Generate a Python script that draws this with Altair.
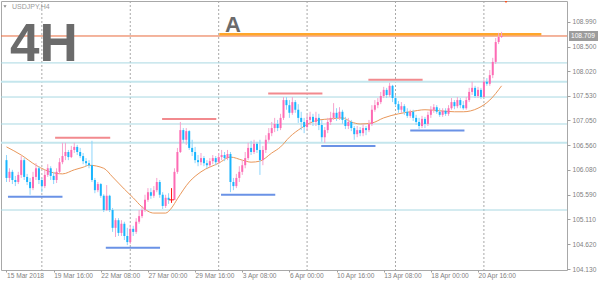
import altair as alt
import pandas as pd

# ---------------- data ----------------
symbol_label = "USDJPY,H4"
timeframe_text = "4H"
marker_text = "A"

first_open = 106.27
close = [
    105.92, 106.04, 105.88, 105.84, 105.98, 106.27, 105.94, 105.84, 105.72, 105.94, 106.11, 105.88,
    105.76, 105.98, 106.11, 105.96, 105.88, 106.04, 106.23, 106.35, 106.43, 106.33, 106.47, 106.53,
    106.43, 106.35, 106.25, 106.21, 106.17, 105.88, 105.68, 105.80, 105.57, 105.29, 105.57, 105.29,
    104.94, 105.09, 104.84, 105.02, 104.78, 104.66, 104.92, 104.86, 105.06, 105.17, 105.29, 105.49,
    105.64, 105.57, 105.68, 105.84, 105.59, 105.37, 105.53, 105.49, 105.49, 106.04, 106.43, 106.86,
    106.67, 106.84, 106.51, 106.43, 106.27, 106.23, 106.31, 106.21, 106.17, 106.25, 106.31, 106.23,
    106.33, 106.37, 106.31, 106.39, 105.84, 105.76, 105.92, 106.04, 106.17, 106.31, 106.51, 106.43,
    106.59, 106.47, 106.27, 106.47, 106.67, 106.80, 106.90, 106.98, 106.90, 107.10, 107.45, 107.35,
    107.20, 107.41, 107.26, 107.10, 107.02, 106.92, 107.06, 107.12, 107.02, 107.10, 106.96, 106.72,
    106.86, 107.02, 107.10, 107.20, 107.10, 107.22, 107.06, 106.94, 107.02, 106.90, 106.78, 106.86,
    106.80, 106.90, 106.86, 106.98, 107.26, 107.35, 107.41, 107.53, 107.65, 107.55, 107.73, 107.49,
    107.37, 107.26, 107.33, 107.22, 107.14, 107.22, 107.10, 107.02, 106.94, 107.08, 106.98, 107.16,
    107.26, 107.31, 107.22, 107.16, 107.24, 107.18, 107.29, 107.41, 107.33, 107.45, 107.35, 107.29,
    107.45, 107.61, 107.69, 107.53, 107.65, 107.51, 107.81, 107.77, 107.94, 108.20, 108.59, 108.69, 108.709,
]
high = [
    106.37, 106.11, 106.08, 105.96, 106.04, 106.35, 106.31, 106.00, 105.92, 106.04, 106.21, 106.15,
    105.92, 106.08, 106.19, 106.15, 106.04, 106.11, 106.31, 106.61, 106.61, 106.47, 106.55, 106.61,
    106.57, 106.51, 106.41, 106.31, 106.27, 106.65, 105.92, 105.84, 105.82, 105.60, 105.78, 105.59,
    105.33, 105.13, 105.13, 105.09, 105.06, 104.94, 105.00, 104.98, 105.13, 105.29, 105.37, 105.59,
    105.72, 105.72, 105.76, 105.92, 105.88, 105.64, 105.59, 105.62, 105.72, 106.11, 106.51, 107.02,
    106.90, 106.90, 106.86, 106.67, 106.53, 106.37, 106.41, 106.35, 106.27, 106.31, 106.37, 106.35,
    106.41, 106.47, 106.43, 106.47, 106.43, 105.92, 106.00, 106.15, 106.27, 106.43, 106.61, 106.65,
    106.67, 106.63, 106.67, 106.55, 106.76, 106.90, 107.02, 107.10, 107.06, 107.18, 107.51, 107.51,
    107.45, 107.51, 107.45, 107.37, 107.22, 107.10, 107.16, 107.22, 107.18, 107.22, 107.18, 107.06,
    106.92, 107.10, 107.22, 107.39, 107.29, 107.31, 107.26, 107.12, 107.10, 107.06, 106.94, 106.94,
    106.92, 106.98, 106.94, 107.06, 107.35, 107.45, 107.49, 107.61, 107.71, 107.69, 107.79, 107.75,
    107.55, 107.43, 107.41, 107.37, 107.29, 107.26, 107.26, 107.16, 107.10, 107.14, 107.12, 107.22,
    107.33, 107.37, 107.35, 107.29, 107.29, 107.29, 107.35, 107.49, 107.45, 107.51, 107.49, 107.43,
    107.51, 107.69, 107.81, 107.73, 107.71, 107.69, 107.86, 107.88, 108.04, 108.28, 108.67, 108.77, 108.79,
]
low = [
    105.84, 105.84, 105.80, 105.76, 105.80, 105.92, 105.88, 105.78, 105.59, 105.68, 105.88, 105.80,
    105.64, 105.72, 105.94, 105.88, 105.80, 105.82, 106.00, 106.19, 106.27, 106.27, 106.31, 106.41,
    106.37, 106.31, 106.19, 106.15, 106.11, 105.84, 105.62, 105.64, 105.53, 105.25, 105.27, 105.25,
    104.86, 104.76, 104.78, 104.78, 104.70, 104.60, 104.62, 104.78, 104.82, 105.02, 105.13, 105.25,
    105.45, 105.51, 105.53, 105.64, 105.53, 105.31, 105.33, 105.41, 105.43, 105.49, 106.00, 106.41,
    106.61, 106.57, 106.47, 106.35, 106.21, 106.15, 106.17, 106.15, 106.11, 106.13, 106.19, 106.17,
    106.19, 106.27, 106.25, 106.27, 105.64, 105.68, 105.72, 105.84, 105.98, 106.11, 106.27, 106.37,
    106.39, 106.41, 105.98, 106.17, 106.41, 106.63, 106.74, 106.82, 106.84, 106.86, 107.06, 107.26,
    107.10, 107.16, 107.20, 107.00, 106.86, 106.80, 106.86, 106.96, 106.94, 106.94, 106.86, 106.63,
    106.61, 106.80, 106.96, 107.06, 107.04, 107.06, 106.98, 106.88, 106.88, 106.84, 106.67, 106.72,
    106.74, 106.74, 106.76, 106.82, 106.94, 107.22, 107.29, 107.37, 107.49, 107.49, 107.51, 107.41,
    107.33, 107.20, 107.20, 107.16, 107.10, 107.10, 107.04, 106.96, 106.88, 106.90, 106.90, 106.94,
    107.10, 107.20, 107.18, 107.12, 107.12, 107.14, 107.14, 107.26, 107.27, 107.29, 107.29, 107.26,
    107.26, 107.41, 107.55, 107.49, 107.49, 107.47, 107.51, 107.73, 107.73, 107.88, 108.16, 108.55, 108.67,
]

ma_idx = [0, 5, 10, 16, 19, 23, 26, 28, 33, 36, 40, 43, 46, 50, 54, 56, 58, 62, 66, 72,
          76, 80, 83, 86, 90, 93, 96, 100, 103, 106, 110, 114, 117, 120, 124, 128, 133, 137, 142, 147,
          152, 155, 160, 164, 168]
ma_val = [106.53, 106.37, 106.17, 106.02, 106.00, 106.08, 106.13, 106.17, 106.11, 105.94,
          105.70, 105.53, 105.35, 105.23, 105.23, 105.33, 105.51, 105.84, 106.04, 106.21,
          106.33, 106.27, 106.23, 106.25, 106.41, 106.53, 106.72, 106.90, 107.00, 107.06,
          107.08, 107.10, 107.02, 106.98, 107.00, 107.10, 107.18, 107.22, 107.26, 107.24,
          107.22, 107.22, 107.29, 107.45, 107.73]

x_tick_idx = [0, 16, 32, 48, 64, 80, 96, 112, 128, 144, 160]
x_tick_text = ["15 Mar 2018", "19 Mar 16:00", "22 Mar 08:00", "27 Mar 00:00", "29 Mar 16:00",
               "3 Apr 08:00", "6 Apr 00:00", "10 Apr 16:00", "13 Apr 08:00", "18 Apr 00:00",
               "20 Apr 16:00"]
y_ticks = [104.13, 104.62, 105.11, 105.59, 106.08, 106.56, 107.05, 107.53, 108.02, 108.50, 108.99]
week_starts = [12, 42, 72, 102, 132, 162]

level_thin = [108.18, 107.51, 106.98, 105.29]
level_wide = [107.81, 106.61]

res_start = [16.5, 52.8, 88.8, 122.8]
res_end = [35.2, 71.2, 107.2, 141.2]
res_price = [106.71, 107.08, 107.58, 107.85]

sup_start = [0.5, 33.7, 72.8, 106.8, 137.0]
sup_end = [19.0, 52.1, 91.2, 125.2, 155.4]
sup_price = [105.55, 104.55, 105.59, 106.55, 106.85]

a_start, a_end, a_price = 72.2, 181.5, 108.745
shift_idx, shift_price = 169.5, 109.40

# ---------------- tables ----------------
n = len(close)
opens = [first_open] + close[:-1]
dirs = ["up" if c > o + 1e-9 else ("down" if c < o - 1e-9 else "doji") for o, c in zip(opens, close)]
candles = pd.DataFrame({"i": list(range(n)), "open": opens, "high": high, "low": low,
                        "close": close, "dir": dirs})
ma_df = pd.DataFrame({"i": ma_idx, "p": ma_val})
res_df = pd.DataFrame({"s": res_start, "e": res_end, "p": res_price})
sup_df = pd.DataFrame({"s": sup_start, "e": sup_end, "p": sup_price})
last_df = pd.DataFrame({"p": [close[-1]]})

# ---------------- styling ----------------
FONT = "Liberation Sans"
LAB = "#7f7f7f"
LINE = "#a0a0a0"
xs = alt.Scale(domain=[-1 / 6, 188.5], nice=False, zero=False)
ys = alt.Scale(domain=[104.1115, 109.3964], nice=False, zero=False)

label_expr = ("[" + ",".join(f"'{t}'" for t in x_tick_text) + "][indexof(["
              + ",".join(str(v) for v in x_tick_idx) + "], datum.value)]")

x_axis = alt.Axis(values=x_tick_idx, labelExpr=label_expr, grid=False, domain=False,
                  tickSize=2, tickColor=LINE, labelAlign="left", labelBaseline="top",
                  labelPadding=0, labelFontSize=6.6, labelFont=FONT, labelColor=LAB,
                  labelFlush=False, labelOverlap=False, title=None, orient="bottom")
y_axis = alt.Axis(orient="right", values=y_ticks, format=".3f", grid=False, domain=False,
                  tickSize=3, tickColor=LINE, labelPadding=2, labelFontSize=6.6,
                  labelFont=FONT, labelColor=LAB, labelFlush=False, labelOverlap=False,
                  title=None)


def X(f="i"):
    return alt.X(f"{f}:Q", scale=xs, axis=x_axis)


def Y(f="p"):
    return alt.Y(f"{f}:Q", scale=ys, axis=y_axis)


weeks = alt.Chart(pd.DataFrame({"i": week_starts})).mark_rule(
    color="#a8a8a8", strokeDash=[2, 2], strokeWidth=1
).encode(x=X())

lv_thin = alt.Chart(pd.DataFrame({"p": level_thin})).mark_rule(
    color="#a9d8e2", strokeWidth=1
).encode(y=Y())

lv_wide = alt.Chart(pd.DataFrame({"p": level_wide})).mark_rule(
    color="#c4e6ed", strokeWidth=2
).encode(y=Y())

res = alt.Chart(res_df).mark_rule(color="#f28a8e", strokeWidth=2).encode(
    x=X("s"), x2="e:Q", y=Y())
sup = alt.Chart(sup_df).mark_rule(color="#6a92e6", strokeWidth=2).encode(
    x=X("s"), x2="e:Q", y=Y())

ma = alt.Chart(ma_df).mark_line(color="#e9975a", strokeWidth=1, interpolate="monotone",
                                clip=True).encode(x=X(), y=Y())

bid = alt.Chart(last_df).mark_rule(color="#e8693c", strokeWidth=1).encode(y=Y())

orange = alt.Chart(pd.DataFrame({"s": [a_start], "e": [a_end], "p": [a_price]})).mark_rule(
    color="#ffa62b", strokeWidth=2.5).encode(x=X("s"), x2="e:Q", y=Y())

dom = ["up", "down", "doji"]
wick = alt.Chart(candles).mark_rule(strokeWidth=1, clip=True).encode(
    x=X(), y=Y("low"), y2="high:Q",
    color=alt.Color("dir:N", scale=alt.Scale(domain=dom, range=["#f7a3cd", "#8dd5fb", "#ff1a1a"]),
                    legend=None))
body = alt.Chart(candles).mark_bar(size=2, clip=True).encode(
    x=X(), y=Y("open"), y2="close:Q",
    color=alt.Color("dir:N", scale=alt.Scale(domain=dom, range=["#fd6bb4", "#19b5fe", "#ff1a1a"]),
                    legend=None))
doji = alt.Chart(candles).transform_filter("datum.dir == 'doji'").mark_tick(
    orient="horizontal", size=5, thickness=1, color="#ff1a1a", opacity=1
).encode(x=X(), y=Y("close"))

shift = alt.Chart(pd.DataFrame({"i": [shift_idx], "p": [shift_price]})).mark_point(
    shape="triangle-down", filled=True, size=30, color="#ff4b14", opacity=1, clip=True
).encode(x=X(), y=Y())

t4h = alt.Chart(pd.DataFrame({"t": [timeframe_text]})).mark_text(
    align="left", baseline="alphabetic", font=FONT, fontSize=53, fontWeight="bold",
    color="#6b6b6b").encode(x=alt.value(9), y=alt.value(60), text="t:N")
tA = alt.Chart(pd.DataFrame({"t": [marker_text]})).mark_text(
    align="left", baseline="alphabetic", font=FONT, fontSize=22, fontWeight="bold",
    color="#6b6b6b").encode(x=alt.value(224), y=alt.value(31), text="t:N")
tsym = alt.Chart(pd.DataFrame({"t": [symbol_label]})).mark_text(
    align="left", baseline="middle", font=FONT, fontSize=7, color="#9a9a9a"
).encode(x=alt.value(11), y=alt.value(5.5), text="t:N")
tri = alt.Chart(pd.DataFrame({"t": [symbol_label]})).mark_point(
    shape="triangle-down", filled=True, size=10, color="#8a8a8a", opacity=1
).encode(x=alt.value(4), y=alt.value(5.5))

pbox = alt.Chart(last_df).mark_tick(orient="horizontal", size=29, thickness=10,
                                    color="#9c9c9c", opacity=1).encode(
    x=alt.value(582.5), y=Y())
ptext = alt.Chart(last_df).mark_text(align="left", baseline="middle", font=FONT,
                                     fontSize=6.6, color="white").encode(
    x=alt.value(570), y=Y(), text=alt.Text("p:Q", format=".3f"))

chart = alt.layer(
    weeks, lv_thin, lv_wide, res, sup, ma, bid, orange, wick, body, doji, shift,
    t4h, tA, tsym, tri, pbox, ptext
).resolve_scale(color="independent").properties(
    width=566, height=269,
    padding={"left": 1, "top": 1, "right": 33, "bottom": 17},
    autosize=alt.AutoSizeParams(type="none"),
    background="white",
).configure_view(stroke="#a8a8a8", strokeWidth=1)

chart.save("out.html", embed_options={"renderer": "svg", "actions": False})
